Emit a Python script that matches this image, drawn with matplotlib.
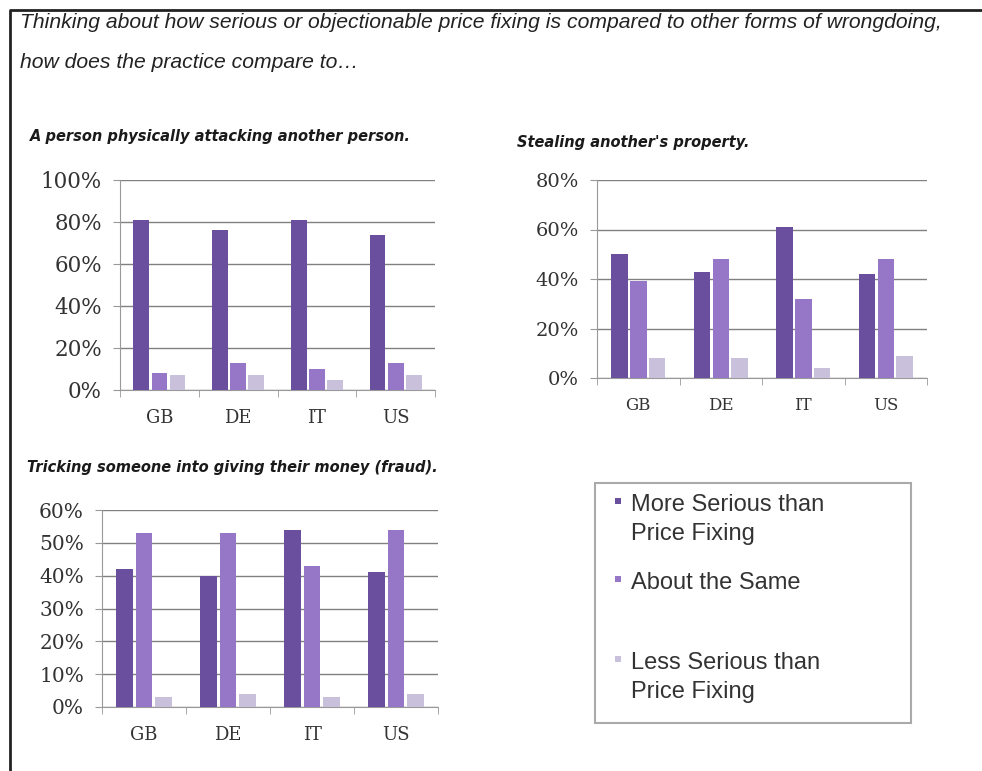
import matplotlib.pyplot as plt
from matplotlib.patches import Rectangle
from matplotlib.lines import Line2D

countries = ["GB", "DE", "IT", "US"]
series_names = ["More Serious than\nPrice Fixing", "About the Same", "Less Serious than\nPrice Fixing"]

# attacking another person
attack_more = [81, 76, 81, 74]
attack_same = [8, 13, 10, 13]
attack_less = [7, 7, 5, 7]

# stealing property
steal_more = [50, 43, 61, 42]
steal_same = [39, 48, 32, 48]
steal_less = [8, 8, 4, 9]

# fraud
fraud_more = [42, 40, 54, 41]
fraud_same = [53, 53, 43, 54]
fraud_less = [3, 4, 3, 4]

colors = ["#6a4f9e", "#9676c6", "#c9c1dc"]

W, H = 982, 771
fig = plt.figure(figsize=(W / 100, H / 100), dpi=100)


def px_axes(left, top, right, bottom):
    return fig.add_axes([left / W, 1 - bottom / H, (right - left) / W, (bottom - top) / H])


def bar_chart(ax, more, same, less, ymax, step, ysize, xsize):
    x = range(len(countries))
    for i, vals in enumerate([more, same, less]):
        ax.bar([xi + (i - 1) * 0.23 for xi in x], vals, width=0.2, color=colors[i], zorder=3)
    ax.set_xlim(-0.5, 3.5)
    ax.set_ylim(0, ymax)
    ax.set_yticks(range(0, ymax + 1, step))
    ax.set_yticklabels([f"{v}%" for v in range(0, ymax + 1, step)], fontsize=ysize,
                       family="DejaVu Serif", color="#333333")
    ax.set_xticks(list(x))
    ax.set_xticklabels(countries, fontsize=xsize, family="DejaVu Serif", color="#333333")
    ax.set_xticks([-0.5, 0.5, 1.5, 2.5, 3.5], minor=True)
    ax.tick_params(axis="x", which="major", length=0, pad=14)
    ax.tick_params(axis="x", which="minor", length=5, color="#999999")
    ax.tick_params(axis="y", length=5, color="#999999", pad=8)
    ax.grid(axis="y", color="#808080", linewidth=1.0, zorder=0)
    for s in ["top", "right"]:
        ax.spines[s].set_visible(False)
    for s in ["left", "bottom"]:
        ax.spines[s].set_color("#999999")


ax1 = px_axes(120, 180, 435, 390)
bar_chart(ax1, attack_more, attack_same, attack_less, 100, 20, 15.5, 13)

ax2 = px_axes(597, 180, 927, 378)
bar_chart(ax2, steal_more, steal_same, steal_less, 80, 20, 14, 12)

ax3 = px_axes(102, 510, 438, 707)
bar_chart(ax3, fraud_more, fraud_same, fraud_less, 60, 10, 14.5, 13)

title_kw = dict(fontsize=10.5, fontweight="bold", style="italic", family="DejaVu Sans",
                color="#1a1a1a", va="center", ha="left")
fig.text(30 / W, 1 - 137 / H, "A person physically attacking another person.", **title_kw)
fig.text(517 / W, 1 - 143 / H, "Stealing another's property.", **title_kw)
fig.text(27 / W, 1 - 468 / H, "Tricking someone into giving their money (fraud).", **title_kw)

head_kw = dict(fontsize=15.2, style="italic", family="Liberation Sans", color="#222222",
               va="center", ha="left")
fig.text(20 / W, 1 - 22 / H,
         "Thinking about how serious or objectionable price fixing is compared to other forms of wrongdoing,",
         **head_kw)
fig.text(20 / W, 1 - 62 / H, "how does the practice compare to\u2026", **head_kw)

# outer frame
fig.add_artist(Line2D([10 / W, 10 / W, 1], [0, 1 - 10 / H, 1 - 10 / H],
                      transform=fig.transFigure, color="#222222", linewidth=2))

# legend box
fig.add_artist(Rectangle((595 / W, 1 - 723 / H), 316 / W, 240 / H, transform=fig.transFigure,
                         facecolor="none", edgecolor="#aaaaaa", linewidth=1.5))
legend_y = [505, 583, 663]
for i, name in enumerate(series_names):
    y = legend_y[i]
    fig.add_artist(Rectangle((615 / W, 1 - (y - 1) / H), 6 / W, 6 / H, transform=fig.transFigure,
                             facecolor=colors[i], edgecolor="none"))
    fig.text(631 / W, 1 - (y - 11) / H, name, fontsize=17, family="Liberation Sans",
             color="#333333", va="top", ha="left", linespacing=1.42)

fig.savefig("out.png", dpi=100)
